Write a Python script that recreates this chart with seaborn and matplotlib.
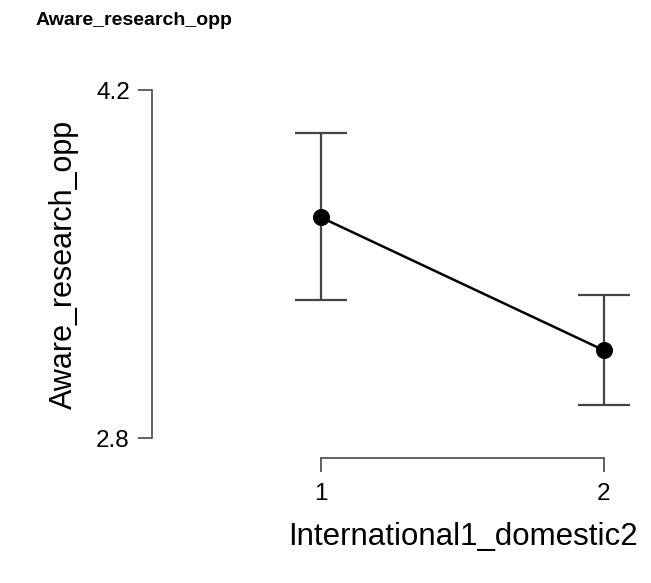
import matplotlib
matplotlib.use("Agg")
import matplotlib.pyplot as plt
import seaborn as sns
import pandas as pd

# === DATA ===
groups = [1, 2]
means = [3.689, 3.154]
lower = [3.355, 2.933]
upper = [4.027, 3.375]
y_ticks = [2.8, 4.2]

sns.set_theme(style="white")
plt.rcParams["font.family"] = ["Liberation Sans", "DejaVu Sans"]

df = pd.DataFrame({"International1_domestic2": groups, "Aware_research_opp": means})

fig = plt.figure(figsize=(6.51, 5.83), dpi=100)
ax = fig.add_axes([0.2335, 0.2144, 0.7373, 0.6518])

# error bars first so the points sit on top
yerr = [[m - lo for m, lo in zip(means, lower)], [hi - m for m, hi in zip(means, upper)]]
ax.errorbar(groups, means, yerr=yerr, fmt="none", ecolor="#444444",
            elinewidth=1.6, capsize=19, capthick=1.6, zorder=2)

sns.lineplot(data=df, x="International1_domestic2", y="Aware_research_opp",
             color="black", linewidth=1.8, marker="o", markersize=11.5,
             markeredgecolor="black", ax=ax, zorder=3)

ax.set_xlim(0.403, 2.1)
ax.set_ylim(2.72, 4.25)
ax.set_xticks(groups)
ax.set_xticklabels([str(g) for g in groups])
ax.set_yticks(y_ticks)
ax.set_yticklabels([f"{t:.1f}" for t in y_ticks])

# JASP style: detached axes lines only covering the data range
for side in ["top", "right"]:
    ax.spines[side].set_visible(False)
ax.spines["left"].set_bounds(y_ticks[0], y_ticks[-1])
ax.spines["bottom"].set_bounds(groups[0], groups[-1])
for side in ["left", "bottom"]:
    ax.spines[side].set_color("#555555")
    ax.spines[side].set_linewidth(1.3)
ax.tick_params(axis="both", direction="out", length=10, width=1.3,
               color="#555555", labelsize=17.5, labelcolor="black",
               bottom=True, left=True, pad=6)
ax.tick_params(axis="x", pad=8)

ax.set_xlabel("International1_domestic2", fontsize=22.5, color="black")
ax.set_ylabel("Aware_research_opp", fontsize=22, color="black")
# labels centred on the data range rather than on the axes box
ax.xaxis.set_label_coords(0.648, -0.168)
ax.yaxis.set_label_coords(-0.152, 0.51)
ax.grid(False)

fig.text(0.055, 0.965, "Aware_research_opp", fontsize=14, fontweight="bold",
         color="black", ha="left", va="center")

fig.savefig("out.png", dpi=100)
